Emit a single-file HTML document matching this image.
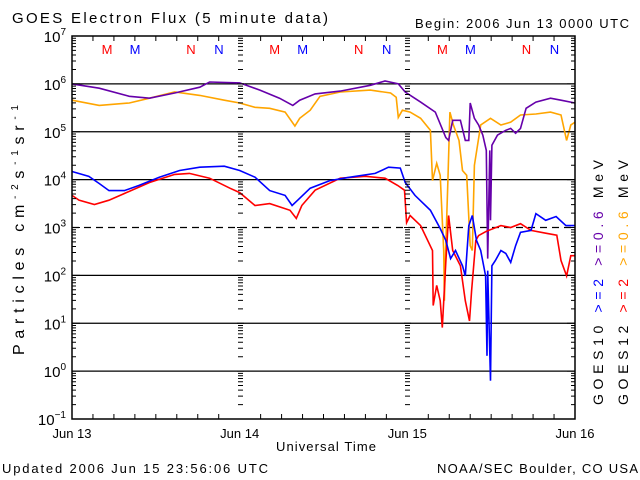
<!DOCTYPE html>
<html><head><meta charset="utf-8"><style>
body{margin:0;background:#fff}
svg{display:block;font-family:"Liberation Sans","DejaVu Sans",sans-serif}
</style></head><body>
<svg id="chart" width="640" height="480" viewBox="0 0 640 480">
<rect width="640" height="480" fill="#fff"/>
<text x="12" y="23" font-size="15" textLength="316" lengthAdjust="spacing">GOES Electron Flux (5 minute data)</text>
<text x="415" y="28" font-size="13" textLength="214" lengthAdjust="spacing">Begin: 2006 Jun 13 0000 UTC</text>
<text x="2" y="473" font-size="13" textLength="266" lengthAdjust="spacing">Updated 2006 Jun 15 23:56:06 UTC</text>
<text x="437" y="473" font-size="13" textLength="201" lengthAdjust="spacing">NOAA/SEC Boulder, CO USA</text>
<text x="276" y="451" font-size="13" textLength="100" lengthAdjust="spacing">Universal Time</text>
<text transform="translate(24,355) rotate(-90)" font-size="16" textLength="250" lengthAdjust="spacing">Particles cm<tspan font-size="10" dy="-6">-2</tspan><tspan dy="6">s</tspan><tspan font-size="10" dy="-6">-1</tspan><tspan dy="6">sr</tspan><tspan font-size="10" dy="-6">-1</tspan></text>
<g id="grid"></g><g id="series"></g><g id="axes"></g><g id="marks"></g>
<g font-size="14">
<text transform="translate(603,405) rotate(-90)" textLength="245" lengthAdjust="spacing"><tspan fill="#000">GOES10 </tspan><tspan fill="#0000ff"> &gt;=2 </tspan><tspan fill="#6600aa"> &gt;=0.6 </tspan><tspan fill="#000"> MeV</tspan></text>
<text transform="translate(628,405) rotate(-90)" textLength="245" lengthAdjust="spacing"><tspan fill="#000">GOES12 </tspan><tspan fill="#ff0000"> &gt;=2 </tspan><tspan fill="#ffa500"> &gt;=0.6 </tspan><tspan fill="#000"> MeV</tspan></text>
</g>
</svg>
<script>
const dayLabels=["Jun 13","Jun 14","Jun 15","Jun 16"];
const decades=[-1,0,1,2,3,4,5,6,7];
const p10h=[0,3.9,8.2,11.1,14.7,18.3,19.7,24,26.9,29.7,31.6,32.6,34.8,38.4,42.7,44.8,46.7,47.7,49.9,52,53.5,53.9,54.5,55.6,56.3,56.8,57,57.6,58.2,58.8,59.3,59.5,59.8,59.9,60.1,60.9,62.1,62.8,63.5,64.2,65,66.4,68.5,70,72];
const p10v=[6,5.91,5.74,5.7,5.81,5.93,6.04,6.02,5.87,5.7,5.55,5.66,5.79,5.85,5.97,6.06,6,5.83,5.62,5.41,4.88,4.82,5.24,5.24,4.82,4.82,5.6,5.28,5.14,4.93,4.61,2.35,4.61,3.15,4.72,4.93,5.03,5.07,4.97,5.07,5.49,5.62,5.7,5.66,5.6];
const o12h=[0,3.9,8.2,11.1,14.7,18.3,21.8,24,26.2,28.3,30.5,31.9,32.6,34.1,35.5,38.4,42.7,45.6,46.4,46.7,47.3,48.4,49.9,51.3,51.6,52.2,52.7,53.2,53.3,53.5,53.8,54.1,54.6,55.4,55.9,56.5,57,57.3,57.6,58.5,59.9,61.4,62.8,64.2,66.4,68.5,70,70.8,71.4,72];
const o12v=[5.66,5.55,5.6,5.7,5.83,5.76,5.66,5.6,5.51,5.49,5.41,5.12,5.28,5.45,5.74,5.83,5.87,5.81,5.72,5.3,5.45,5.41,5.28,5.03,3.98,4.34,4.09,2.52,1.47,2.62,3.98,5.41,5.14,4.82,4.19,4.09,2.62,2.52,4.3,5.14,5.28,5.14,5.2,5.35,5.37,5.41,5.35,4.82,5.14,5.2];
const b10h=[0,2.4,3.9,5.3,7.5,9.6,12.5,15.4,18.3,21.8,24,26.2,28.3,30.5,31.5,32.3,34.1,36.9,39.8,43.4,45.3,47,47.7,49.1,51.3,52.7,53.5,54.2,54.9,55.9,56.3,56.8,57.3,57.9,58.5,59.2,59.4,59.5,59.9,60.1,60.6,61.4,62.1,62.8,63.5,64.2,65.7,66.4,67.8,69.3,70.7,72];
const b10v=[4.17,4.07,3.92,3.77,3.77,3.88,4.05,4.19,4.26,4.28,4.19,4.05,3.77,3.67,3.46,3.57,3.82,3.98,4.05,4.13,4.26,4.24,3.94,3.67,3.36,2.98,2.73,2.35,2.52,2.2,1.99,3.04,3.25,2.73,2.52,1.99,0.32,2.1,-0.2,2.2,2.31,2.52,2.46,2.27,2.62,2.9,2.94,3.29,3.15,3.23,3.04,3.04];
const r12h=[0,1,3.2,5.3,7.5,11.1,14.7,16.8,19.7,22.6,24,26.2,28.3,31.2,32.1,32.9,34.8,38.4,42,44.8,46.6,47.6,47.9,48.4,49.9,51.6,51.7,52.2,52.7,53,53.5,53.9,54.5,55.6,56.3,56.9,57.2,57.8,58.2,59.3,61.4,62.8,64.2,65.7,67.8,69.4,70,70.8,71.4,72];
const r12v=[3.67,3.57,3.48,3.57,3.71,3.94,4.11,4.13,4.03,3.82,3.73,3.46,3.5,3.36,3.19,3.46,3.78,4.03,4.07,4.03,3.88,3.78,3.1,3.25,3.04,2.52,1.37,1.79,1.47,0.91,2.27,3.25,2.52,2.2,1.47,1.05,1.68,2.73,2.83,2.92,3.04,3,3.08,2.94,2.88,2.84,2.31,1.99,2.41,2.41];

const L=72,R=575,T=36,B=419;
const xs=h=>L+(R-L)*h/72;
const ys=v=>B-(B-T)*(v+1)/8;
const NS="http://www.w3.org/2000/svg";
function mk(tag,parent,attrs){const e=document.createElementNS(NS,tag);for(const k in attrs)e.setAttribute(k,attrs[k]);document.getElementById(parent).appendChild(e);return e;}

for(const d of decades){
  if(d<0||d>6)continue;
  const g=mk('line','grid',{x1:L,x2:R,y1:ys(d),y2:ys(d),stroke:'#000','stroke-width':1.3});
  if(d===3)g.setAttribute('stroke-dasharray','7,5');
  
  
}
const ax=mk('rect','axes',{x:L,y:T,width:R-L,height:B-T,fill:'none',stroke:'#000','stroke-width':1.5});


let minorPath='';
for(const d of decades){
  const y=ys(d);
  minorPath+=`M${L} ${y}h8M${R} ${y}h-8`;
  if(d<7)for(let m=2;m<10;m++){const yy=ys(d+Math.log10(m));minorPath+=`M${L} ${yy}h4M${R} ${yy}h-4`;
    for(const dx of [240,407])minorPath+=`M${dx-2} ${yy}h5`;}
  for(const dx of [240,407])minorPath+=`M${dx-3} ${y}h7`;
  const t=mk('text','axes',{x:L-6,y:y+6,'font-size':15,'text-anchor':'end'});
  t.innerHTML='10<tspan font-size="10" dy="-7">'+(d<0?'−1':d)+'</tspan>';
  
  
}
for(let h=3;h<72;h+=3){const x=xs(h);const len=h%24===0?0:5;minorPath+=`M${x} ${B}v-${len}M${x} ${T}v${len}`;}
const mp=mk('path','axes',{d:minorPath,stroke:'#000','stroke-width':1,fill:'none'});


dayLabels.forEach((s,i)=>{
  const t=mk('text','axes',{x:xs(i*24),y:438,'font-size':13,'text-anchor':'middle'});
  t.textContent=s;
  
  
});
for(let i=0;i<3;i++){
  [[35,'M','#ff0000'],[63,'M','#0000ff'],[119,'N','#ff0000'],[147,'N','#0000ff']].forEach(([o,c,col])=>{
    const t=mk('text','marks',{x:L+i*167.7+o,y:54,'font-size':13,'text-anchor':'middle',fill:col});
    t.textContent=c;
    
    
  });
}
function series(h,v,col,name){
  const d=h.map((t,i)=>(i?'L':'M')+xs(t).toFixed(1)+' '+ys(v[i]).toFixed(1)).join('');
  const p=mk('path','series',{d:d,stroke:col,'stroke-width':1.6,fill:'none'});
  
  
}
series(o12h,o12v,'#ffa500','goes12-0.6mev-line');
series(p10h,p10v,'#6600aa','goes10-0.6mev-line');
series(r12h,r12v,'#ff0000','goes12-2mev-line');
series(b10h,b10v,'#0000ff','goes10-2mev-line');
</script>
</body></html>
